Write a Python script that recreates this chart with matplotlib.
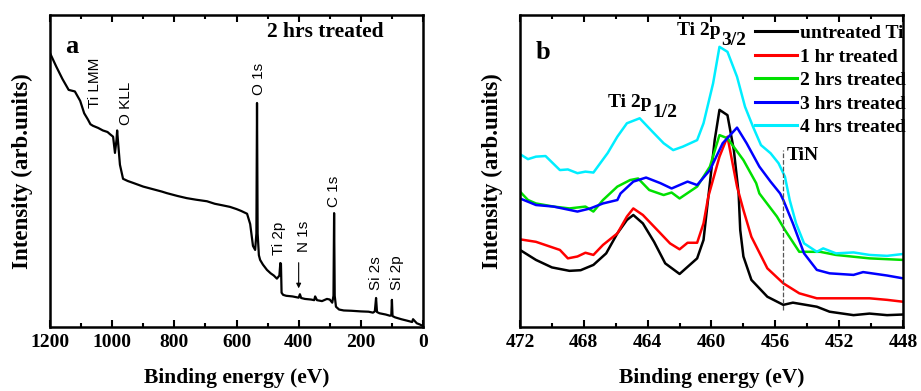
import matplotlib
matplotlib.use("Agg")
import matplotlib.pyplot as plt

# ---- panel a: survey spectrum (2 hrs treated) ----
survey_ev = [1200, 1180, 1160, 1140, 1120, 1103, 1090, 1078, 1070, 1062, 1045, 1030,
             1015, 1007, 997, 991, 986, 984, 980, 975, 965, 950, 933, 900, 870, 840,
             824, 790, 760, 730, 695, 670, 645, 621, 600, 585, 566, 556, 547, 540,
             536, 534, 532, 528, 524, 515, 502, 490, 480, 470, 462, 459, 457, 455,
             450, 440, 420, 405, 400, 396, 392, 380, 360, 350, 347, 341, 325, 309,
             300, 292, 288, 286, 284, 280, 270, 255, 230, 200, 175, 161, 155, 151,
             148, 140, 120, 106, 102, 100, 98, 90, 70, 50, 35, 32, 20, 10, 0]
survey_int = [87.8, 83.5, 79.5, 76.0, 75.5, 72.5, 68.5, 66.5, 65.0, 64.5, 63.8, 63.0,
              62.5, 61.8, 61.0, 55.8, 60.0, 63.0, 58.0, 52.0, 47.5, 46.8, 46.2, 45.0,
              44.2, 43.4, 42.9, 42.0, 41.3, 40.8, 40.3, 39.5, 39.0, 38.5, 37.8, 37.2,
              36.3, 33.0, 26.0, 24.7, 30.0, 71.8, 30.0, 23.0, 21.5, 20.0, 18.3, 17.2,
              16.5, 15.5, 16.5, 20.5, 20.3, 11.0, 10.3, 10.0, 9.8, 9.5, 9.4, 10.5,
              9.3, 9.0, 8.8, 8.6, 9.8, 8.6, 8.3, 9.0, 8.8, 7.8, 10.0, 36.5, 10.0, 6.5,
              5.6, 5.3, 5.2, 5.0, 4.9, 4.6, 5.0, 9.3, 4.8, 4.4, 4.0, 3.6, 3.8, 8.7,
              3.5, 3.1, 2.5, 2.0, 1.6, 2.5, 1.2, 0.8, 0.3]

survey_peaks = ["Ti LMM", "O KLL", "O 1s", "Ti 2p", "N 1s", "C 1s", "Si 2s", "Si 2p"]
peak_ev = [1055, 955, 528, 463, 383, 286, 151, 84]
peak_y = [70.2, 64.7, 74.4, 23.0, 24.0, 38.5, 11.9, 11.9]

# ---- panel b: Ti 2p high resolution ----
labels = ["untreated Ti", "1 hr treated", "2 hrs treated", "3 hrs treated", "4 hrs treated"]
colors = ["black", "#ff0000", "#00e000", "#0000ff", "#00eeff"]

ev_untreated = [472, 471.0, 470.0, 468.9, 468.2, 467.4, 466.6, 465.9, 465.3, 464.9, 464.3,
                463.6, 462.9, 462.0, 460.9, 460.5, 459.8, 459.5, 459.0, 458.6, 458.3,
                458.2, 458.0, 457.5, 456.5, 455.5, 454.9, 453.4, 452.6, 451.1, 450.1,
                449.0, 448]
int_untreated = [24.7, 21.5, 19.1, 18.0, 18.2, 19.9, 23.6, 30.0, 34.3, 35.9, 33.2, 27.3,
                 20.4, 17.0, 22.0, 27.9, 59.9, 69.6, 67.9, 56.7, 42.8, 31.1, 22.6, 15.1,
                 9.7, 7.1, 7.8, 6.5, 4.9, 3.8, 4.3, 3.8, 4.0]

ev_1hr = [472, 471.0, 469.5, 469.0, 468.4, 467.9, 467.4, 466.8, 465.9, 465.3, 464.9,
          464.3, 463.4, 462.6, 462.0, 461.5, 460.9, 460.5, 460.2, 459.5, 459.0, 458.4,
          458.0, 457.5, 456.5, 455.5, 454.5, 453.4, 452.2, 450.1, 449.0, 448]
int_1hr = [28.1, 27.3, 24.7, 22.0, 22.6, 23.8, 23.1, 26.3, 30.0, 35.4, 38.0, 35.9, 31.1,
           26.8, 24.9, 27.0, 27.0, 33.2, 41.8, 54.6, 61.0, 45.0, 37.5, 28.9, 18.8, 14.0,
           10.8, 9.2, 9.2, 9.2, 8.7, 8.1]

ev_2hr = [472, 471.5, 471.0, 469.9, 468.9, 467.9, 467.4, 466.8, 465.9, 465.1, 464.6,
          463.9, 463.0, 462.5, 462.0, 460.9, 460.1, 459.5, 459.0, 458.0, 457.2, 457.0,
          455.9, 455.4, 454.5, 453.2, 452.2, 450.1, 448]
int_2hr = [43.4, 40.7, 39.6, 38.6, 38.0, 38.6, 37.0, 40.7, 45.0, 47.1, 47.6, 43.9, 42.3,
           43.1, 41.2, 45.0, 51.4, 61.5, 60.5, 53.5, 46.1, 42.8, 35.4, 31.1, 24.1, 24.1,
           23.1, 22.0, 21.5]

ev_3hr = [472, 471.0, 469.9, 468.4, 467.6, 466.8, 465.9, 465.7, 464.9, 464.1, 463.2,
          462.5, 461.5, 460.9, 460.1, 459.3, 458.4, 457.8, 457.0, 456.3, 455.7, 455.5,
          454.9, 454.2, 453.4, 452.6, 451.1, 450.5, 449.0, 448]
int_3hr = [41.2, 39.1, 38.6, 37.0, 38.0, 39.6, 40.7, 42.8, 46.6, 47.9, 46.1, 44.4, 46.6,
           45.5, 50.3, 58.9, 63.9, 58.9, 51.4, 46.6, 42.8, 40.7, 33.2, 23.6, 18.3, 17.2,
           16.7, 17.6, 16.5, 15.6]

ev_4hr = [472, 471.5, 471.0, 470.4, 469.5, 469.0, 468.4, 467.9, 467.4, 466.5, 465.9,
          465.3, 464.5, 463.7, 463.0, 462.4, 461.8, 460.9, 460.5, 459.9, 459.5, 459.0,
          458.4, 457.9, 457.4, 456.9, 456.3, 455.8, 455.4, 455.1, 454.7, 454.2, 453.4,
          453.0, 452.2, 451.1, 450.1, 449.0, 448]
int_4hr = [55.4, 53.8, 54.6, 54.8, 50.3, 50.5, 49.3, 49.8, 49.5, 55.8, 61.0, 65.3, 66.9,
           62.6, 58.9, 56.7, 57.8, 59.9, 65.3, 78.1, 89.8, 88.2, 80.2, 70.6, 64.2, 58.3,
           55.7, 52.5, 48.2, 40.7, 33.2, 26.8, 24.1, 25.2, 23.6, 23.9, 23.1, 22.8, 23.4]

ti_ev = [ev_untreated, ev_1hr, ev_2hr, ev_3hr, ev_4hr]
ti_int = [int_untreated, int_1hr, int_2hr, int_3hr, int_4hr]

tin_ev = 455.5

plt.rcParams["font.family"] = "Liberation Serif"
plt.rcParams["font.weight"] = "bold"

fig = plt.figure(figsize=(9.21, 3.91), dpi=100)
ax1 = fig.add_axes([50 / 921, 64 / 391, 373 / 921, 312 / 391])
ax2 = fig.add_axes([520 / 921, 64 / 391, 383 / 921, 312 / 391])


def style(ax):
    for s in ax.spines.values():
        s.set_linewidth(1.8)
    ax.tick_params(axis="x", which="both", direction="in", top=True, width=1.5,
                   labelsize=14, pad=5)
    ax.tick_params(axis="x", which="major", length=5)
    ax.tick_params(axis="x", which="minor", length=3)
    ax.set_yticks([])
    ax.set_ylim(0, 100)
    ax.set_xlabel("Binding energy (eV)", fontsize=15.5, fontweight="bold", labelpad=12)
    ax.set_ylabel("Intensity (arb.units)", fontsize=16.5, fontweight="bold", labelpad=12)
    for t in ax.get_xticklabels():
        t.set_fontweight("bold")


def peak_label(ax, x, y, main, sub):
    # main text plus a big, lowered subscript (as in the original figure)
    t = ax.text(x, y, main, transform=ax.transAxes, fontsize=14, fontweight="bold",
                va="baseline")
    ax.annotate(sub, xy=(1, 0), xycoords=t, xytext=(0.5, -4.3),
                textcoords="offset points", fontsize=14, fontweight="bold",
                va="baseline", ha="left")


# panel a
ax1.plot(survey_ev, survey_int, color="black", lw=1.6)
ax1.set_xlim(1200, 0)
ax1.set_xticks(range(0, 1201, 200))
ax1.set_xticks(range(100, 1200, 200), minor=True)
style(ax1)
for name, x, y in zip(survey_peaks, peak_ev, peak_y):
    ax1.text(x, y, name, rotation=90, ha="center", va="bottom", fontsize=11,
             family="Liberation Sans", fontweight="normal")
ax1.annotate("", xy=(400, 11.5), xytext=(400, 21.5),
             arrowprops=dict(arrowstyle="-|>", color="black", lw=0.8, mutation_scale=7))
ax1.text(0.582, 0.945, "2 hrs treated", transform=ax1.transAxes, fontsize=15.5,
         fontweight="bold", va="center")
ax1.text(0.059, 0.9, "a", transform=ax1.transAxes, fontsize=19, fontweight="bold",
         ha="center", va="center")

# panel b
for x, y, c, lab in zip(ti_ev, ti_int, colors, labels):
    ax2.plot(x, y, color=c, lw=1.8, label=lab)
ax2.set_xlim(472, 448)
ax2.set_xticks(range(448, 473, 4))
ax2.set_xticks(range(450, 472, 4), minor=True)
style(ax2)
ax2.plot([tin_ev, tin_ev], [5.4, 56.7], color="#555555", lw=0.9, ls="--")
ax2.text(0.697, 0.55, "TiN", transform=ax2.transAxes, fontsize=14, fontweight="bold",
         va="center")
peak_label(ax2, 0.41, 0.936, "Ti 2p", "3/2")
peak_label(ax2, 0.23, 0.705, "Ti 2p", "1/2")
ax2.text(0.06, 0.88, "b", transform=ax2.transAxes, fontsize=19, fontweight="bold",
         ha="center", va="center")
leg = ax2.legend(loc="upper right", bbox_to_anchor=(1.008, 0.969), frameon=False,
                 fontsize=14, handlelength=2.17, handletextpad=0.15, borderpad=0,
                 borderaxespad=0, labelspacing=0.3)
for t in leg.get_texts():
    t.set_fontweight("bold")
for line in leg.get_lines():
    line.set_linewidth(2.2)

fig.savefig("out.png", dpi=100)
